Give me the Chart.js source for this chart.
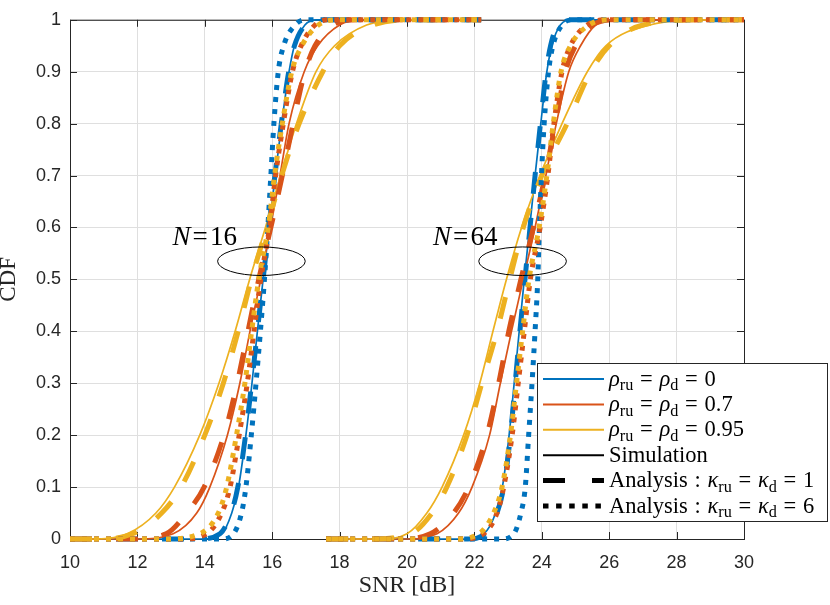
<!DOCTYPE html>
<html>
<head>
<meta charset="utf-8">
<script src="https://cdn.jsdelivr.net/npm/chart.js@4.4.1/dist/chart.umd.min.js"></script>
<style>
  html, body { margin: 0; padding: 0; background: #fff; }
  #wrap { width: 830px; height: 605px; }
</style>
</head>
<body>
<div id="wrap"><canvas id="cdfChart" width="830" height="605"></canvas></div>
<script>
// CDF levels shared by every curve (first/last pair = flat tails)
const cdfLevels = [0, 0, 0.01, 0.05, 0.1, 0.2, 0.3, 0.4, 0.5, 0.6, 0.7, 0.8, 0.9, 0.95, 0.99, 1, 1];

// SNR [dB] at each CDF level
// N = 16
const n16SimRho0    = [10, 13.9, 14.5, 14.8, 15.0, 15.22, 15.4, 15.56, 15.73, 15.91, 16.09, 16.28, 16.5, 16.66, 16.97, 17.3, 22.2];
const n16SimRho07   = [10, 12.0, 13.06, 13.76, 14.15, 14.67, 15.04, 15.34, 15.66, 15.95, 16.23, 16.5, 16.95, 17.35, 18.0, 18.6, 22.2];
const n16SimRho095  = [10, 10.8, 11.7, 12.55, 13.1, 13.85, 14.42, 14.9, 15.33, 15.8, 16.25, 16.72, 17.3, 17.85, 18.8, 19.8, 22.2];
const n16K1Rho0     = [10, 13.8, 14.45, 14.78, 14.98, 15.21, 15.39, 15.56, 15.73, 15.9, 16.08, 16.27, 16.49, 16.66, 16.98, 17.35, 22.2];
const n16K1Rho07    = [10, 11.8, 12.85, 13.46, 13.98, 14.57, 14.96, 15.28, 15.6, 15.96, 16.3, 16.62, 16.97, 17.27, 17.8, 18.5, 22.2];
const n16K1Rho095   = [10, 10.9, 11.85, 12.72, 13.3, 14.0, 14.55, 14.99, 15.38, 15.84, 16.28, 16.8, 17.5, 18.0, 19.0, 20.0, 22.2];
const n16K6Rho0     = [10, 14.5, 14.85, 15.09, 15.22, 15.38, 15.52, 15.65, 15.77, 15.87, 15.96, 16.05, 16.18, 16.34, 16.68, 17.0, 22.2];
const n16K6Rho07    = [10, 13.3, 14.05, 14.5, 14.75, 15.02, 15.26, 15.46, 15.66, 15.92, 16.1, 16.33, 16.6, 16.86, 17.27, 17.7, 22.2];
const n16K6Rho095   = [10, 12.8, 13.85, 14.4, 14.65, 14.94, 15.19, 15.39, 15.6, 15.88, 16.07, 16.3, 16.58, 16.88, 17.37, 17.97, 22.2];
// N = 64
const n64SimRho0    = [17.6, 21.7, 22.28, 22.63, 22.83, 23.03, 23.18, 23.33, 23.48, 23.64, 23.8, 23.97, 24.15, 24.3, 24.55, 24.9, 30];
const n64SimRho07   = [17.6, 20.0, 20.89, 21.53, 21.93, 22.45, 22.77, 23.1, 23.45, 23.8, 24.12, 24.43, 24.8, 25.15, 25.6, 26.2, 30];
const n64SimRho095  = [17.6, 19.2, 20.0, 20.59, 21.04, 21.68, 22.16, 22.55, 22.95, 23.4, 23.95, 24.6, 25.35, 25.9, 27.2, 29.0, 30];
const n64K1Rho0     = [17.6, 21.8, 22.32, 22.67, 22.87, 23.07, 23.21, 23.35, 23.5, 23.65, 23.8, 23.96, 24.13, 24.26, 24.48, 24.85, 30];
const n64K1Rho07    = [17.6, 19.7, 20.69, 21.38, 21.83, 22.37, 22.72, 23.02, 23.38, 23.75, 24.1, 24.4, 24.7, 25.0, 25.5, 26.2, 30];
const n64K1Rho095   = [17.6, 18.8, 20.1, 20.74, 21.18, 21.78, 22.22, 22.67, 23.05, 23.45, 24.0, 24.75, 25.45, 26.0, 27.0, 29.0, 30];
const n64K6Rho0     = [17.6, 22.8, 23.17, 23.38, 23.51, 23.61, 23.71, 23.8, 23.88, 23.93, 23.99, 24.07, 24.2, 24.33, 24.6, 24.9, 30];
const n64K6Rho07    = [17.6, 21.6, 22.27, 22.67, 22.87, 23.12, 23.3, 23.48, 23.66, 23.95, 24.18, 24.36, 24.6, 24.85, 25.35, 25.9, 30];
const n64K6Rho095   = [17.6, 21.4, 22.13, 22.57, 22.82, 23.07, 23.25, 23.43, 23.62, 23.92, 24.15, 24.34, 24.57, 24.85, 25.4, 26.0, 30];

const xTicks = [10, 12, 14, 16, 18, 20, 22, 24, 26, 28, 30];
const yTicks = [0, 0.1, 0.2, 0.3, 0.4, 0.5, 0.6, 0.7, 0.8, 0.9, 1];

// annotation ellipses (data units) and their labels
const groupLabels = ['16', '64'];
const labelX = [13.04, 20.77];
const labelY = 0.566;
const ellipseX = [15.68, 23.43];
const ellipseY = 0.535;

const BLUE = '#0072BD', ORANGE = '#D95319', YELLOW = '#EDB120', INK = '#262626';
const SIM = { width: 1.7, dash: [] };
const K1 = { width: 5, dash: [22, 24] };
const K6 = { width: 5, dash: [5, 7] };

const curves = [
  [n16SimRho0, BLUE, SIM], [n16SimRho07, ORANGE, SIM], [n16SimRho095, YELLOW, SIM],
  [n16K1Rho0, BLUE, K1], [n16K1Rho07, ORANGE, K1], [n16K1Rho095, YELLOW, K1],
  [n16K6Rho0, BLUE, K6], [n16K6Rho07, ORANGE, K6], [n16K6Rho095, YELLOW, K6],
  [n64SimRho0, BLUE, SIM], [n64SimRho07, ORANGE, SIM], [n64SimRho095, YELLOW, SIM],
  [n64K1Rho0, BLUE, K1], [n64K1Rho07, ORANGE, K1], [n64K1Rho095, YELLOW, K1],
  [n64K6Rho0, BLUE, K6], [n64K6Rho07, ORANGE, K6], [n64K6Rho095, YELLOW, K6]
];

const datasets = curves.map(([xs, color, st], i) => ({
  data: xs.map((v, j) => ({ x: v, y: cdfLevels[j] })),
  showLine: true,
  borderColor: color,
  borderWidth: st.width,
  borderDash: st.dash,
  borderCapStyle: 'butt',
  pointRadius: 0,
  cubicInterpolationMode: 'monotone',
  clip: false,
  order: -i
}));

// draws math-ish runs: italic symbols, lowered subscripts, padded relations
function drawRuns(ctx, x, y, runs, size) {
  runs.forEach(r => {
    const fs = r.sub ? size * 0.72 : size;
    ctx.font = (r.it ? 'italic ' : '') + fs + 'px "Liberation Serif"';
    const pad = r.rel ? size * r.rel : 0;
    x += pad;
    ctx.fillText(r.t, x, y + (r.sub ? size * 0.22 : 0));
    x += ctx.measureText(r.t).width + pad;
  });
}

// box, inward ticks (under the data like MATLAB)
const framePlugin = {
  id: 'frame',
  beforeDatasetsDraw(chart) {
    const { ctx, chartArea: a, scales: { x, y } } = chart;
    ctx.save();
    ctx.strokeStyle = INK;
    ctx.lineWidth = 1;
    ctx.strokeRect(a.left + 0.5, a.top + 0.5, a.right - a.left, a.bottom - a.top);
    ctx.beginPath();
    xTicks.forEach(t => {
      const px = Math.round(x.getPixelForValue(t)) + 0.5;
      ctx.moveTo(px, a.bottom); ctx.lineTo(px, a.bottom - 7);
      ctx.moveTo(px, a.top); ctx.lineTo(px, a.top + 7);
    });
    yTicks.forEach(t => {
      const py = Math.round(y.getPixelForValue(t)) + 0.5;
      ctx.moveTo(a.left, py); ctx.lineTo(a.left + 7, py);
      ctx.moveTo(a.right, py); ctx.lineTo(a.right - 7, py);
    });
    ctx.stroke();
    ctx.restore();
  }
};

const notesPlugin = {
  id: 'notes',
  afterDatasetsDraw(chart) {
    const { ctx, scales: { x, y } } = chart;
    ctx.save();
    ctx.strokeStyle = '#000';
    ctx.fillStyle = '#000';
    ctx.lineWidth = 1;
    ellipseX.forEach((cx, i) => {
      const px = x.getPixelForValue(cx), py = y.getPixelForValue(ellipseY);
      const rx = x.getPixelForValue(cx + 1.3) - px;
      const ry = py - y.getPixelForValue(ellipseY + 0.0275);
      ctx.beginPath();
      ctx.ellipse(px, py, rx, ry, 0, 0, Math.PI * 2);
      ctx.stroke();
      drawRuns(ctx, x.getPixelForValue(labelX[i]), y.getPixelForValue(labelY),
        [{ t: 'N', it: 1 }, { t: '=', rel: 0.08 }, { t: groupLabels[i] }], 27);
    });
    ctx.restore();
  }
};

const legendPlugin = {
  id: 'mathLegend',
  afterDraw(chart) {
    const ctx = chart.ctx;
    const rho = v => [{ t: 'ρ', it: 1 }, { t: 'ru', sub: 1 }, { t: '=', rel: 0.3 }, { t: 'ρ', it: 1 }, { t: 'd', sub: 1 }, { t: '=', rel: 0.3 }, { t: v }];
    const kap = v => [{ t: 'Analysis' }, { t: ':', rel: 0.3 }, { t: 'κ', it: 1 }, { t: 'ru', sub: 1 }, { t: '=', rel: 0.3 }, { t: 'κ', it: 1 }, { t: 'd', sub: 1 }, { t: '=', rel: 0.3 }, { t: v }];
    const rows = [
      [BLUE, 2, [], rho('0')],
      [ORANGE, 2, [], rho('0.7')],
      [YELLOW, 2, [], rho('0.95')],
      ['#000', 2, [], [{ t: 'Simulation' }]],
      ['#000', 5, [22, 27], kap('1')],
      ['#000', 5, [5.5, 7.6], kap('6')]
    ];
    ctx.save();
    ctx.fillStyle = '#fff';
    ctx.fillRect(537, 363, 290, 158);
    ctx.strokeStyle = INK;
    ctx.lineWidth = 1;
    ctx.strokeRect(537.5, 363.5, 290, 158);
    rows.forEach(([c, w, d, runs], i) => {
      const ly = 379 + i * 25.4;
      ctx.beginPath();
      ctx.strokeStyle = c;
      ctx.lineWidth = w;
      ctx.lineCap = 'butt';
      ctx.setLineDash(d);
      ctx.moveTo(543, ly); ctx.lineTo(604, ly);
      ctx.stroke();
      ctx.setLineDash([]);
      ctx.fillStyle = '#000';
      drawRuns(ctx, 609, ly + 6.5, runs, 22.5);
    });
    ctx.restore();
  }
};

Chart.defaults.font.family = '"Liberation Sans", Arial, sans-serif';
Chart.defaults.color = INK;

new Chart(document.getElementById('cdfChart'), {
  type: 'scatter',
  data: { datasets },
  options: {
    responsive: false,
    devicePixelRatio: 1,
    animation: false,
    layout: { padding: { top: 6, right: 86, left: 0, bottom: 0 } },
    plugins: { legend: { display: false }, tooltip: { enabled: false } },
    scales: {
      x: {
        min: 10, max: 30,
        afterFit: s => { s.height = 66; },
        ticks: { stepSize: 2, font: { size: 18 }, padding: 13, color: INK },
        grid: { color: '#dfdfdf', drawTicks: false },
        border: { display: false },
        title: { display: true, text: 'SNR [dB]', color: INK,
          font: { family: '"Liberation Serif"', size: 24, lineHeight: 1 }, padding: { bottom: 7, top: 0 } }
      },
      y: {
        min: 0, max: 1,
        afterFit: s => { s.width = 70; },
        ticks: { stepSize: 0.1, font: { size: 18 }, padding: 9, color: INK,
          callback: v => String(Number(v.toFixed(2))) },
        grid: { color: '#dfdfdf', drawTicks: false },
        border: { display: false },
        title: { display: true, text: 'CDF', color: INK,
          font: { family: '"Liberation Serif"', size: 23, lineHeight: 0.8 }, padding: { top: 0, bottom: 0 } }
      }
    }
  },
  plugins: [framePlugin, notesPlugin, legendPlugin]
});
</script>
</body>
</html>
